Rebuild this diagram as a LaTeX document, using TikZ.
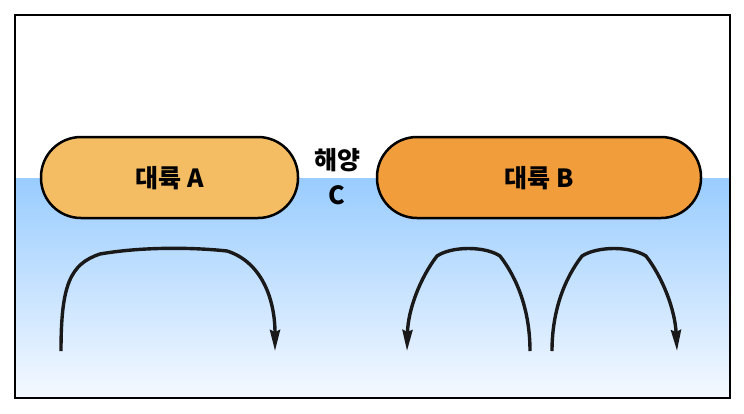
\documentclass[tikz,border=0pt]{standalone}
\usepackage{fontspec}
\newfontfamily\kr{Noto Sans CJK KR}
\usetikzlibrary{arrows.meta}
\definecolor{contA}{RGB}{244,188,99}
\definecolor{contB}{RGB}{241,157,60}
\definecolor{seatop}{RGB}{153,204,255}
\definecolor{seabot}{RGB}{245,249,255}
\tikzset{
  continent/.style={draw=black, line width=2.5pt, rounded corners=40pt},
  label/.style={font=\kr\bfseries\fontsize{25}{28}\selectfont, inner sep=0pt},
  flow/.style={draw=black!90, line width=3.4pt, -{Stealth[length=21pt,width=10pt,inset=2pt]}},
}
\begin{document}
\begin{tikzpicture}[x=1pt,y=-1pt]
\useasboundingbox (0,0) rectangle (744,413);
\fill[white] (0,0) rectangle (744,413);
\shade[top color=seatop, bottom color=seabot] (15,178) rectangle (730,398);
\draw[black, line width=2pt] (15,15) rectangle (730,398);
% continents
\draw[continent, fill=contA] (41,137) rectangle (298,218);
\draw[continent, fill=contB] (377,137) rectangle (701,218);
\node[label] (la) at (169.5,178) {대륙 A};
\node[label] (lb) at (539,178) {대륙 B};
\node[label] (ocean) at (337,160) {해양};
\node[label] (oc) at (337,195) {C};
% flows
\coordinate (a0) at (61,351);
\coordinate (a1) at (275,351);
\draw[flow] (a0) .. controls (61,285) and (70,264) .. (100,254)
  .. controls (140,247) and (190,247) .. (227,251)
  .. controls (262,262) and (275,300) .. (a1);
\coordinate (b0) at (530,351);
\coordinate (b1) at (407,351);
\draw[flow] (b0) .. controls (530,310) and (517,278) .. (500,256)
  .. controls (485,246) and (452,246) .. (437,256)
  .. controls (420,278) and (408,310) .. (b1);
\coordinate (c0) at (552,351);
\coordinate (c1) at (677,351);
\draw[flow] (c0) .. controls (552,310) and (565,278) .. (582,256)
  .. controls (598,246) and (630,246) .. (646,256)
  .. controls (663,278) and (675,310) .. (c1);
\end{tikzpicture}
\end{document}
